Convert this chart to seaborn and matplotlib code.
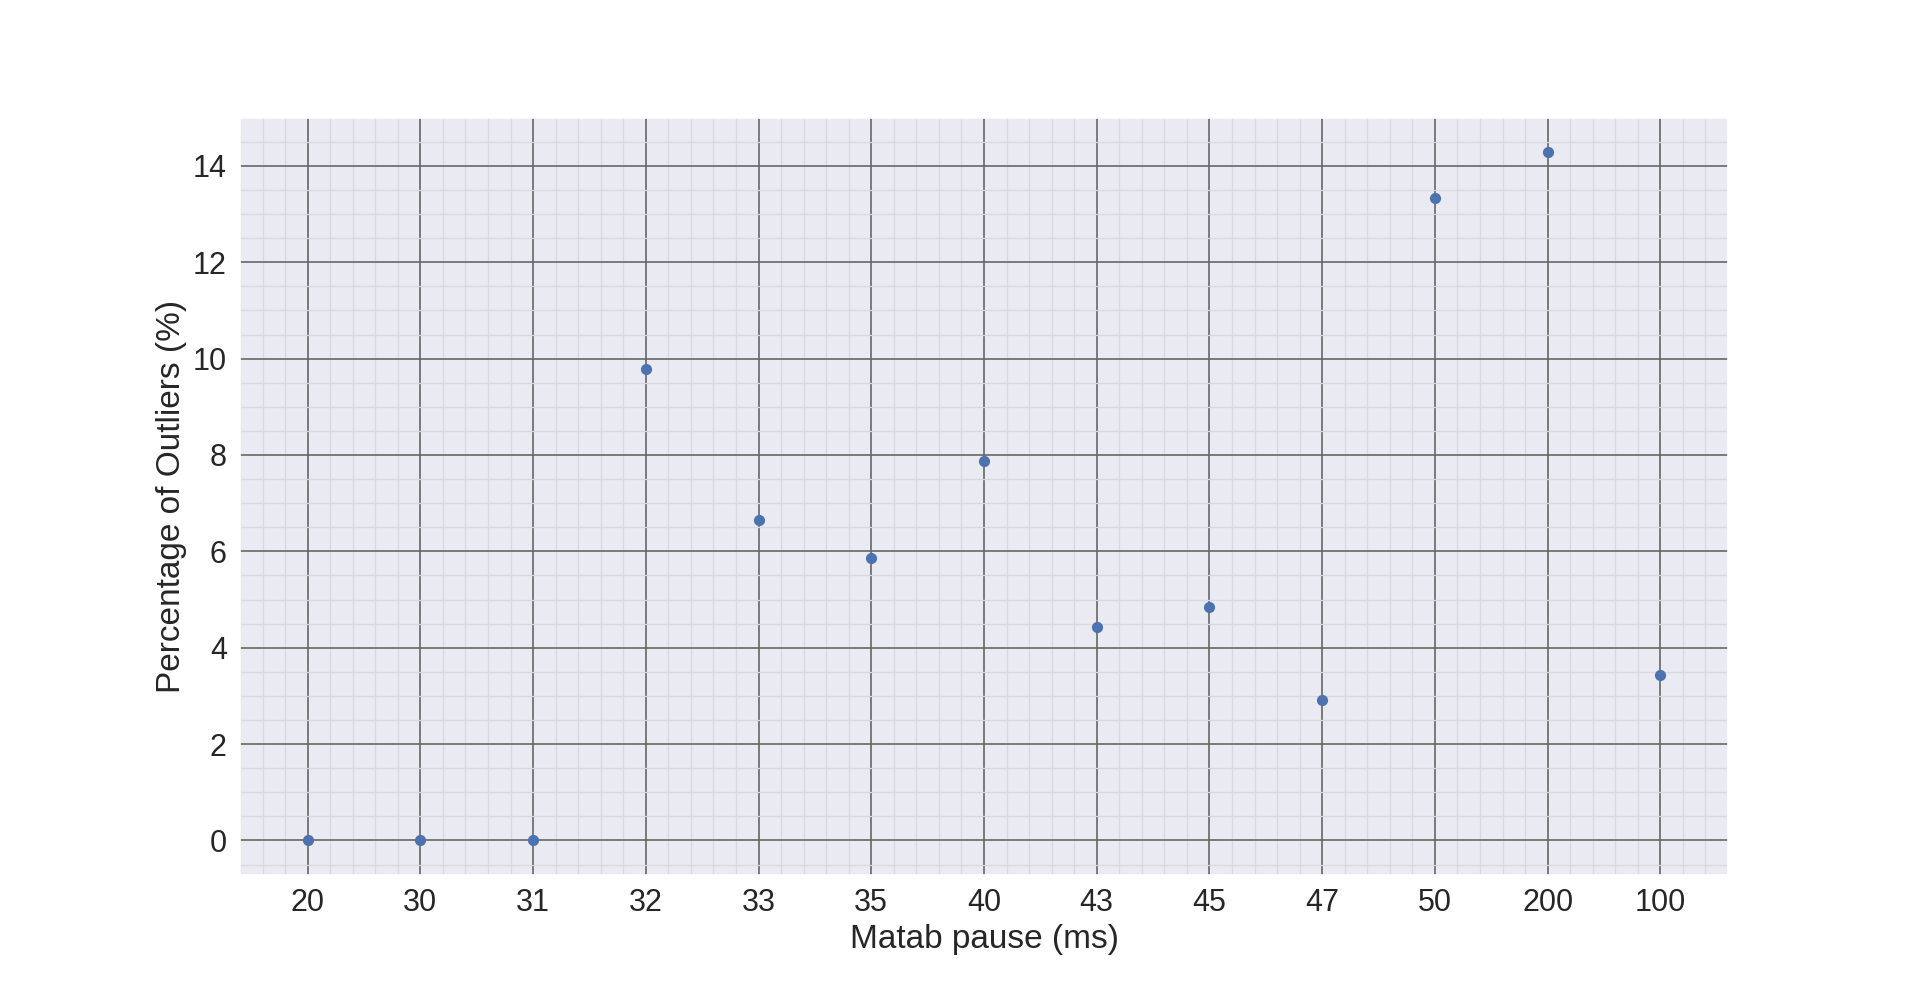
import matplotlib
matplotlib.use("Agg")
import matplotlib.pyplot as plt
import seaborn as sns
import pandas as pd

pauses = ["20", "30", "31", "32", "33", "35", "40", "43", "45", "47", "50", "200", "100"]
outliers = [0.0, 0.0, 0.0, 9.79, 6.65, 5.86, 7.88, 4.43, 4.84, 2.91, 13.33, 14.28, 3.43]

sns.set_theme(style="darkgrid", font_scale=2)
plt.rcParams["font.family"] = ["Liberation Sans", "DejaVu Sans"]

df = pd.DataFrame({"pause": pauses, "pct": outliers})

fig, ax = plt.subplots(figsize=(19.2, 9.83), dpi=100)
sns.scatterplot(data=df, x="pause", y="pct", ax=ax, s=65, linewidth=0, color="#4C72B0", zorder=3)

ax.minorticks_on()
ax.grid(which="major", color="#666666", linewidth=1.2)
ax.grid(which="minor", color="#d8d8df", linewidth=0.9)

ax.set_xlabel("Matab pause (ms)")
ax.set_ylabel("Percentage of Outliers (%)")

fig.savefig("out.png", dpi=100)
